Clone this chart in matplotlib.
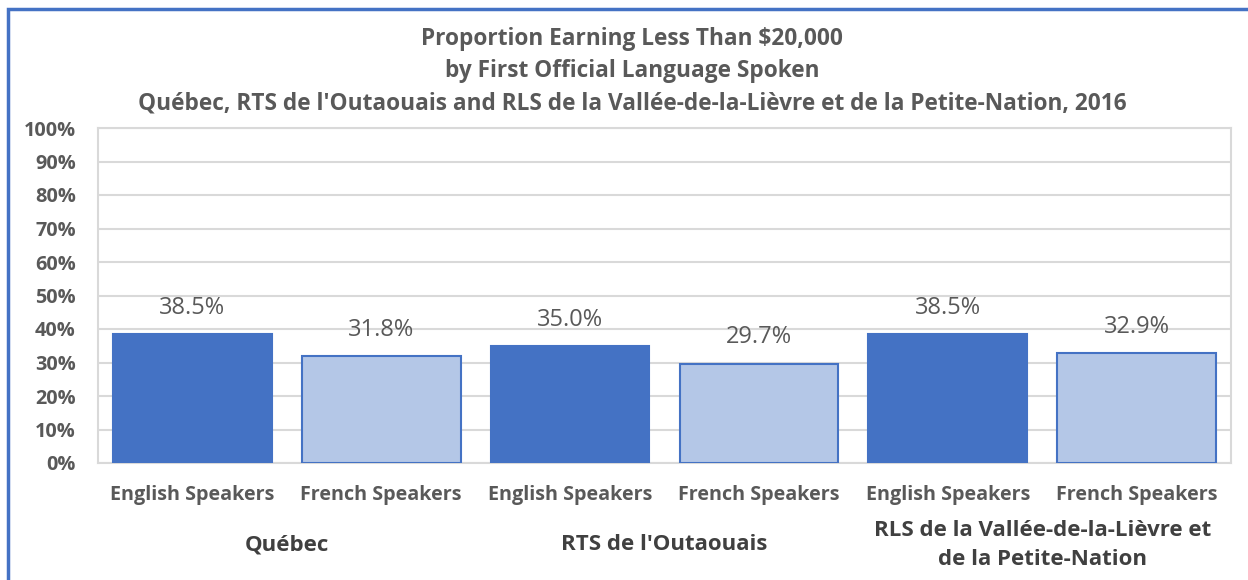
import numpy as np
import matplotlib.pyplot as plt
from matplotlib.patches import Rectangle
import matplotlib.transforms as mtrans

plt.rcParams['font.family'] = ['Open Sans', 'DejaVu Sans']

# Data
groups = ["Québec", "RTS de l'Outaouais",
          "RLS de la Vallée-de-la-Lièvre et\nde la Petite-Nation"]
speakers = ["English Speakers", "French Speakers"]
english = [38.5, 35.0, 38.5]
french = [31.8, 29.7, 32.9]

title = ("Proportion Earning Less Than $20,000\n"
         "by First Official Language Spoken\n"
         "Québec, RTS de l'Outaouais and RLS de la Vallée-de-la-Lièvre et de la Petite-Nation, 2016")

dark = "#4472C4"
light = "#B4C7E7"
grey = "#595959"
grid = "#D9D9D9"

fig = plt.figure(figsize=(12.48, 5.8), dpi=100)
ax = fig.add_axes([98/1248, 1 - 463/580, (1231-98)/1248, (463-128)/580])

vals = []
labels = []
colors = []
edges = []
for e, f in zip(english, french):
    vals += [e, f]
    labels += speakers
    colors += [dark, light]
    edges += [dark, dark]
x = np.arange(len(vals))

ax.bar(x, vals, width=0.84, color=colors, edgecolor=edges, linewidth=1.5, zorder=3)
for xi, v in zip(x, vals):
    ax.text(xi, v + 4.2, f"{v:.1f}%", ha="center", va="bottom",
            fontsize=17, color=grey, zorder=4)

ax.set_xlim(-0.5, len(vals) - 0.5)
ax.set_ylim(0, 100)
ax.set_yticks(np.arange(0, 101, 10))
ax.set_yticklabels([f"{t}%" for t in range(0, 101, 10)],
                   fontsize=14.3, fontweight="bold", color=grey)
ax.set_xticks(x)
ax.set_xticklabels(labels, fontsize=14.2, fontweight="bold", color=grey)
ax.tick_params(axis="both", length=0)
ax.tick_params(axis="y", pad=16)
ax.tick_params(axis="x", pad=16)
ax.grid(axis="y", color=grid, linewidth=1.5, zorder=0)
for s in ax.spines.values():
    s.set_color(grid)
    s.set_linewidth(1.5)

# group labels
trans = mtrans.blended_transform_factory(ax.transData, fig.transFigure)
for i, g in enumerate(groups):
    ax.text(2*i + 0.5, 1 - 545/580, g, transform=trans, ha="center", va="center",
            fontsize=16, fontweight="bold", color="#404040", linespacing=1.5)

fig.text(632/1248, 1 - 71/580, title, ha="center", va="center",
         fontsize=16.3, fontweight="bold", color=grey, linespacing=1.45)

# outer frame of chart
fig.patches.append(Rectangle((8/1248, -0.1), 1.2, 1.1 - 9/580, transform=fig.transFigure,
                             fill=False, edgecolor=dark, linewidth=2.5))

fig.savefig("out.png", dpi=100)
